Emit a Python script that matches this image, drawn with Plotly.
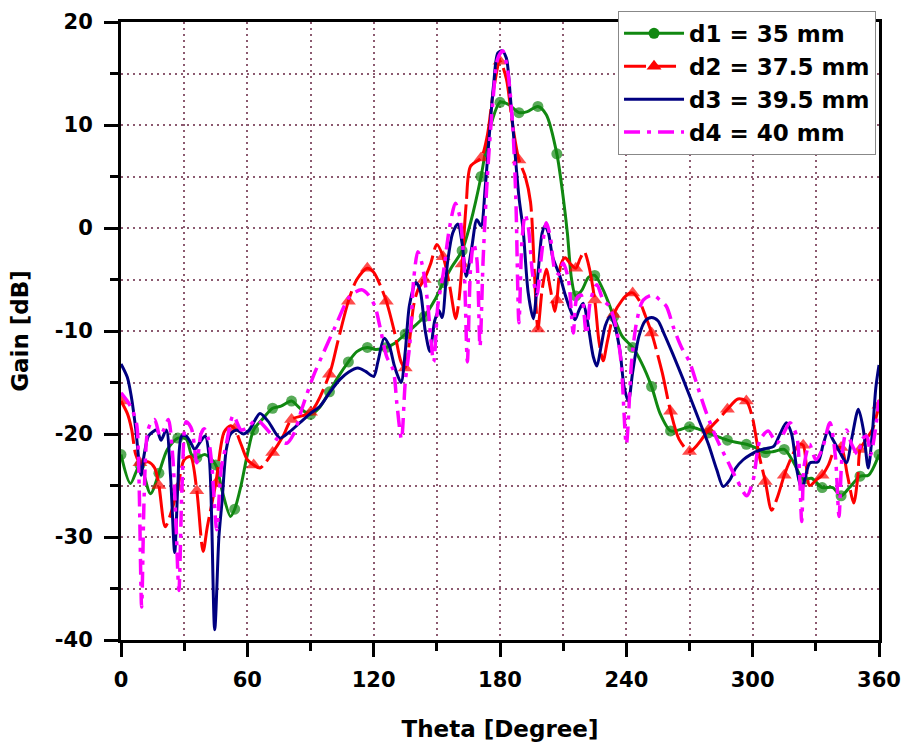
import plotly.graph_objects as go

# ---------------- data ----------------
theta_d1 = [0, 4.5, 9, 14, 18, 22, 27, 31, 33.5, 36, 40, 45, 48, 52, 54, 57, 60, 63, 67, 72, 76, 81, 85, 90,
            94, 99, 103, 108, 112, 117, 121, 126, 130, 135, 139, 144, 149, 153, 157, 162, 166, 171, 175, 180,
            184, 189, 193, 198, 202, 207, 210, 212, 214, 216, 219, 222, 225, 229, 232, 234, 238, 243, 247, 252,
            256, 261, 265, 270, 274, 279, 284, 288, 292, 297, 301, 306, 310, 315, 319, 324, 328, 333, 338, 342,
            346, 351, 355, 360]
gain_d1 = [-22.0, -24.8, -23.0, -25.8, -23.8, -21.5, -20.4, -20.5, -22.0, -22.3, -22.0, -23.0, -25.5, -28.0, -27.3,
           -25.0, -22.0, -19.6, -18.6, -17.5, -17.3, -16.8, -17.5, -18.1, -17.5, -15.9, -14.5, -13.0, -12.0, -11.6,
           -11.8, -11.6, -11.2, -10.3, -9.6, -8.6, -7.0, -5.3, -3.8, -2.2, 0.5, 5.0, 9.5, 12.2, 12.0, 11.2, 11.3,
           11.8, 11.0, 7.2, 3.0, -0.5, -5.0, -6.6, -6.0, -4.8, -4.6, -6.0, -7.5, -8.6, -10.5, -11.6, -13.0, -15.4,
           -18.0, -19.7, -19.6, -19.3, -19.5, -19.9, -20.3, -20.6, -20.8, -21.0, -21.3, -21.8, -21.7, -21.5, -22.6,
           -24.4, -24.3, -25.2, -25.2, -26.0, -25.2, -24.1, -24.0, -22.0]

theta_d2 = [0, 3, 5, 7, 9, 13, 16, 18, 21, 24, 27, 30, 33, 36, 39, 41, 45, 49, 52, 54, 57, 60, 63, 66, 72, 77,
            81, 90, 99, 103, 108, 112, 117, 120, 123, 126, 130, 133, 135, 137, 139, 141, 144, 147, 150, 153, 156,
            159, 160.5, 162, 164, 166, 171, 174, 177, 180, 183, 186, 189, 192, 194.5, 196.5, 198, 200, 202, 204,
            206, 207, 209, 211, 213.5, 216, 218, 220, 222, 225, 227, 229, 231, 234, 238, 241, 243, 246, 249, 252,
            257, 261, 265, 270, 274, 279, 284, 288, 293, 297, 300, 303, 306, 309, 312, 315, 319, 322, 324, 327,
            330, 333, 336, 339, 342, 345, 348, 350, 351, 354, 357, 360]
gain_d2 = [-16.8, -18.0, -19.5, -22.0, -22.8, -22.7, -23.3, -25.0, -29.0, -27.5, -25.2, -22.5, -22.2, -25.5,
           -31.4, -29.0, -24.8, -19.8, -19.2, -19.5, -21.0, -22.5, -23.0, -23.3, -21.8, -20.2, -18.6, -17.9, -14.2,
           -11.0, -7.1, -5.0, -3.9, -4.3, -5.5, -7.1, -10.2, -13.0, -13.6, -11.0, -7.5, -6.0, -5.0, -3.5, -1.6,
           -2.8, -5.5, -8.8, -7.0, -3.5, 2.5, 6.0, 6.8, 9.0, 13.5, 16.2, 14.5, 10.0, 6.6, 5.0, 2.5, -5.0, -9.8,
           -6.0, -4.0, -6.0, -8.1, -7.0, -3.5, -2.9, -3.5, -3.9, -3.0, -2.3, -3.5, -7.0, -11.0, -12.9, -11.0, -8.4,
           -7.0, -6.4, -6.3, -7.0, -8.5, -10.2, -14.0, -17.8, -20.5, -21.7, -21.0, -19.6, -18.5, -17.6, -16.6,
           -16.8, -18.5, -22.0, -24.6, -27.4, -26.0, -24.0, -22.0, -21.0, -21.1, -25.0, -24.5, -24.0, -23.0, -21.5,
           -21.3, -24.0, -26.7, -24.0, -21.5, -20.5, -19.5, -17.2]

theta_d3 = [0, 3, 5, 7, 9.5, 11, 13, 15, 17, 19, 21.5, 23.5, 25.5, 27, 28.8, 31, 33, 35, 37.5, 40, 42, 44.5,
            46.5, 48, 50, 52, 55, 58, 61, 66, 70, 75.5, 80, 85, 90, 94.5, 99, 104, 108, 112.5, 116, 120, 122,
            125, 127.5, 130, 133, 135, 137, 140, 142, 144.5, 146.7, 149, 151, 152.5, 155, 157.5, 160, 162, 164,
            166.5, 169, 171, 173, 175, 177, 179, 181, 183, 185, 187, 189, 191, 193.4, 195.8, 198, 200, 201.4, 203,
            205, 208.5, 211, 213.5, 215.6, 217.5, 219.5, 221.5, 224.3, 226, 228, 230, 232.3, 234.5, 237, 239, 241,
            243, 246, 249, 252, 255, 258, 262, 267, 271, 275, 279, 283, 286, 289, 292, 295.5, 299, 303, 306.6, 310,
            313, 316, 318.5, 321, 323.3, 325, 327.2, 331, 333.5, 335.8, 338, 341.5, 344.6, 347, 350.2, 352.5, 354.9,
            357, 358.5, 360]
gain_d3 = [-13.2, -14.5, -16.5, -19.5, -24.0, -22.0, -20.2, -19.8, -19.6, -20.6, -19.6, -24.0, -31.5, -25.0,
           -20.2, -20.2, -20.8, -21.5, -20.8, -20.2, -22.5, -39.0, -30.0, -26.5, -21.5, -20.0, -19.6, -20.0, -19.6,
           -18.0, -18.8, -20.4, -19.8, -18.9, -18.0, -17.3, -16.0, -14.7, -14.0, -13.6, -13.9, -14.4, -13.0, -10.7,
           -11.5, -13.5, -15.0, -12.0, -7.5, -5.3, -6.0, -10.0, -12.0, -9.0, -8.0, -8.7, -3.5, -0.5, 0.4, -1.5,
           -4.7, -2.0, 0.8, 0.2, 4.0, 9.2, 14.0, 17.0, 17.2, 16.5, 12.5, 7.6, 3.0, -0.2, -6.3, -8.8, -4.5, -0.5,
           0.2, -0.5, -2.8, -4.7, -6.5, -8.0, -8.9, -8.0, -7.3, -9.0, -12.5, -13.4, -11.5, -9.5, -8.6, -9.5, -12.0,
           -15.5, -16.8, -14.0, -10.5, -9.0, -8.7, -9.0, -10.3, -12.2, -14.7, -16.8, -18.9, -21.0, -23.5, -25.1,
           -24.5, -23.3, -22.5, -22.0, -21.6, -21.4, -21.2, -20.0, -18.9, -20.0, -23.5, -25.4, -24.2, -22.8, -22.7,
           -21.0, -19.7, -20.5, -21.8, -22.8, -20.5, -17.6, -19.5, -23.3, -19.5, -15.5, -13.3]

theta_d4 = [0, 3, 5, 7.4, 8.5, 9.8, 11, 12.5, 14, 16, 18.5, 20.5, 22.5, 24.5, 26, 27.5, 29, 31, 33.5, 36, 38,
            39.5, 41.5, 43, 45.5, 47.5, 50, 53.3, 57, 60, 64.4, 70.8, 74, 78.7, 82, 86, 91.3, 95.3, 101.7, 108.8,
            114.3, 117.5, 120.6, 123, 126.2, 129.3, 131, 133.2, 135, 137.2, 139, 141, 143, 145.5, 148.5, 150.5,
            153, 156, 158.8, 161, 163, 164.5, 166, 167.5, 169, 170.5, 172, 174, 176.5, 179, 181.3, 183.5, 186,
            187.5, 189, 190.5, 192, 193.5, 195.5, 197.5, 199.5, 202, 204, 206, 208, 210, 212.5, 214.8, 216.5,
            218.5, 221, 223, 226, 229, 232, 235, 237.5, 240, 242.5, 245, 248, 252.5, 256, 259, 262.3, 266, 270.2,
            274, 278.1, 283, 288.5, 292.4, 297.2, 300.3, 303.5, 307.4, 311.4, 314.5, 317.7, 320.9, 322.3, 323.3,
            324.5, 327, 330, 333, 336.7, 339.3, 341, 342.5, 344.6, 347, 350, 352, 354.2, 356, 358, 360]
gain_d4 = [-16.0, -16.8, -17.5, -19.0, -24.0, -36.8, -26.0, -19.9, -19.0, -18.6, -20.2, -19.5, -18.6, -22.0,
           -28.0, -35.2, -25.0, -18.8, -19.5, -22.8, -20.0, -19.5, -20.5, -22.7, -29.3, -23.5, -21.0, -18.2, -19.6,
           -19.4, -18.6, -19.9, -20.5, -20.9, -20.0, -17.5, -14.4, -12.5, -9.6, -6.6, -6.0, -6.5, -7.6, -9.6, -12.5,
           -13.8, -17.0, -20.5, -15.0, -11.2, -5.0, -2.3, -3.5, -7.0, -13.0, -7.5, -4.5, 0.0, 2.4, 1.0, -4.0,
           -13.0, -4.0, -1.5, -3.0, -11.5, -3.0, 5.0, 12.0, 16.5, 17.2, 15.5, 10.0, 3.0, -9.2, -1.0, 1.3, 0.0,
           -4.5, -6.5, -3.0, 0.5, -1.0, -4.0, -4.5, -3.4, -5.0, -10.2, -6.8, -6.5, -10.3, -7.0, -5.5, -7.0, -7.6,
           -9.5, -13.0, -21.0, -13.0, -9.0, -7.0, -6.5, -7.0, -7.6, -9.6, -11.5, -13.1, -15.5, -18.0, -20.5, -22.8,
           -24.4, -26.0, -24.4, -20.6, -19.7, -20.9, -20.0, -18.9, -20.2, -24.0, -28.5, -23.0, -21.0, -22.5, -21.5,
           -18.9, -22.2, -28.0, -22.0, -19.6, -21.0, -22.0, -20.5, -20.2, -22.0, -20.0, -16.7]

series_names = ["d1 = 35 mm", "d2 = 37.5 mm", "d3 = 39.5 mm", "d4 = 40 mm"]
x_ticks = [0, 60, 120, 180, 240, 300, 360]
y_ticks = [-40, -30, -20, -10, 0, 10, 20]
marker_step = 9  # symbols drawn every 9 degrees on d1 and d2

# ---------------- styles ----------------
GREEN = "#118811"
RED = "#ff0000"
NAVY = "#000080"
MAGENTA = "#ff00ff"
GRID = "#8c5a70"
FONT = "DejaVu Sans"


def marker_sizes(theta, size):
    return [size if abs(t / marker_step - round(t / marker_step)) < 1e-9 else 0 for t in theta]


fig = go.Figure()

fig.add_trace(go.Scatter(x=theta_d1, y=gain_d1, mode="lines+markers", showlegend=False,
                         line=dict(color=GREEN, width=3, shape="spline", smoothing=0.8),
                         marker=dict(symbol="circle", color=GREEN, size=marker_sizes(theta_d1, 11),
                                     line=dict(width=0))))
fig.add_trace(go.Scatter(x=theta_d2, y=gain_d2, mode="lines+markers", showlegend=False,
                         line=dict(color=RED, width=3, shape="spline", smoothing=0.8, dash="45px,6px"),
                         marker=dict(symbol="triangle-up", color=RED, size=marker_sizes(theta_d2, 13),
                                     line=dict(width=0))))
fig.add_trace(go.Scatter(x=theta_d3, y=gain_d3, mode="lines", showlegend=False,
                         line=dict(color=NAVY, width=3, shape="spline", smoothing=0.8)))
fig.add_trace(go.Scatter(x=theta_d4, y=gain_d4, mode="lines", showlegend=False,
                         line=dict(color=MAGENTA, width=3.5, shape="spline", smoothing=0.8,
                                   dash="16px,7px,4px,7px")))

# legend entries
fig.add_trace(go.Scatter(x=[None], y=[None], mode="lines+markers", name=series_names[0],
                         line=dict(color=GREEN, width=3), marker=dict(symbol="circle", color=GREEN, size=11)))
fig.add_trace(go.Scatter(x=[None], y=[None], mode="lines+markers", name=series_names[1],
                         line=dict(color=RED, width=3, dash="22px,8px"),
                         marker=dict(symbol="triangle-up", color=RED, size=13)))
fig.add_trace(go.Scatter(x=[None], y=[None], mode="lines", name=series_names[2],
                         line=dict(color=NAVY, width=3)))
fig.add_trace(go.Scatter(x=[None], y=[None], mode="lines", name=series_names[3],
                         line=dict(color=MAGENTA, width=3.5, dash="16px,7px,4px,7px")))

axis_common = dict(
    showline=True, linecolor="black", linewidth=3, mirror=True,
    ticks="outside", ticklen=14, tickwidth=3, tickcolor="black",
    showgrid=True, gridcolor=GRID, gridwidth=1.5, griddash="2px,4px",
    zeroline=False, automargin=False,
    tickfont=dict(family=FONT, size=21, color="black", weight="bold"),
)

fig.update_xaxes(range=[0, 360], tickvals=x_ticks, ticktext=[str(v) for v in x_ticks],
                 minor=dict(dtick=30, tick0=0, ticks="outside", ticklen=8, tickwidth=2.5, tickcolor="black",
                            showgrid=True, gridcolor=GRID, gridwidth=1.5, griddash="2px,4px"),
                 title=dict(text="<b>Theta [Degree]</b>", font=dict(family=FONT, size=23, color="black"),
                            standoff=30),
                 ticklabelstandoff=5,
                 **axis_common)
fig.update_yaxes(range=[-40, 20], tickvals=y_ticks, ticktext=[str(v) for v in y_ticks],
                 minor=dict(dtick=5, tick0=0, ticks="outside", ticklen=8, tickwidth=2.5, tickcolor="black",
                            showgrid=True, gridcolor=GRID, gridwidth=1.5, griddash="2px,4px"),
                 title=dict(text="<b>Gain [dB]</b>", font=dict(family=FONT, size=23, color="black"),
                            standoff=20),
                 ticklabelstandoff=7,
                 **axis_common)

fig.update_layout(
    width=905, height=744,
    margin=dict(l=121, r=26, t=22, b=104, autoexpand=False),
    paper_bgcolor="white", plot_bgcolor="white",
    legend=dict(x=0.6557, y=1.018, xanchor="left", yanchor="top",
                bgcolor="white", bordercolor="#888888", borderwidth=1,
                font=dict(family=FONT, size=23, color="black", weight="bold"),
                itemwidth=60, tracegroupgap=0),
)

# remove the page's default body margin so the 905x744 figure fills the window exactly
fig.write_html("out.html", config={"displayModeBar": False},
               post_script="document.body.style.margin='0px';document.body.style.overflow='hidden';")
